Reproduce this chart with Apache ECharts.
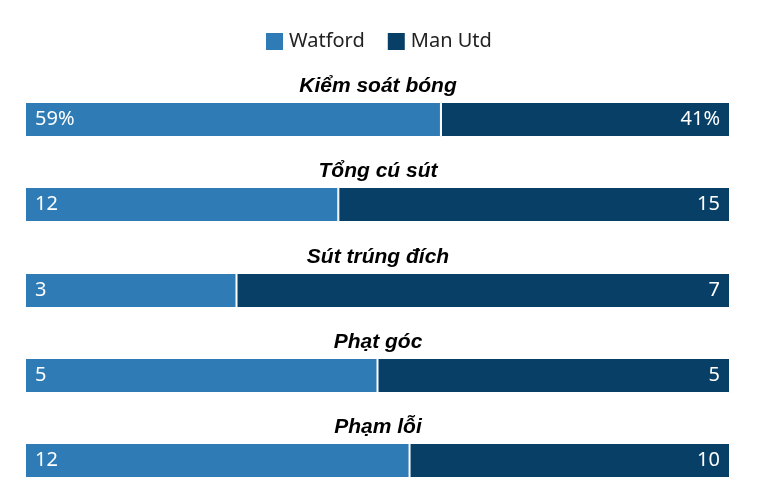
<!DOCTYPE html>
<html><head><meta charset="utf-8">
<script src="https://cdn.jsdelivr.net/npm/echarts@6/dist/echarts.min.js"></script>
<style>html,body{margin:0;padding:0;background:#fff}#c{width:759px;height:498px}</style>
</head><body><div id="c"></div>
<script>
const categories = ['Kiểm soát bóng', 'Tổng cú sút', 'Sút trúng đích', 'Phạt góc', 'Phạm lỗi'];
const teams = ['Watford', 'Man Utd'];
const watford = [59, 12, 3, 5, 12];
const manUtd = [41, 15, 7, 5, 10];
const suffixes = ['%', '', '', '', ''];

const colors = ['#2e7bb6', '#073f67'];
const barTops = [102, 187, 273, 358, 443];
const barH = 35;
const titleFont = "'Liberation Sans', Arial, sans-serif";
const labelFont = "'Noto Sans', sans-serif";

const grids = [], xAxes = [], yAxes = [], series = [], titles = [];
categories.forEach((cat, i) => {
  grids.push({ left: 25, right: 29, top: barTops[i], height: barH });
  xAxes.push({ type: 'value', gridIndex: i, min: 0, max: watford[i] + manUtd[i], show: false });
  yAxes.push({ type: 'category', gridIndex: i, data: [cat], show: false });
  titles.push({
    text: cat, left: 378, textAlign: 'center', top: barTops[i] - 26, padding: 0,
    textStyle: { fontFamily: titleFont, fontSize: 21, fontWeight: 'bold', fontStyle: 'italic', color: '#000' }
  });
  [watford, manUtd].forEach((arr, k) => {
    series.push({
      name: teams[k], type: 'bar', stack: 's' + i, xAxisIndex: i, yAxisIndex: i,
      barWidth: barH, data: [arr[i]], silent: true,
      itemStyle: { color: colors[k], borderColor: '#fff', borderWidth: 1 },
      label: {
        show: true, position: k === 0 ? 'insideLeft' : 'insideRight', distance: 10,
        formatter: () => arr[i] + suffixes[i],
        color: '#fff', fontFamily: labelFont, fontSize: 20
      }
    });
  });
});

const chart = echarts.init(document.getElementById('c'));
chart.setOption({
  animation: false,
  title: titles,
  legend: {
    data: teams, left: 264, top: 31, padding: 0, itemWidth: 19, itemHeight: 19, itemGap: 21,
    icon: 'rect', textStyle: { fontFamily: labelFont, fontSize: 20, color: '#222' }
  },
  grid: grids, xAxis: xAxes, yAxis: yAxes, series: series
});
</script></body></html>
